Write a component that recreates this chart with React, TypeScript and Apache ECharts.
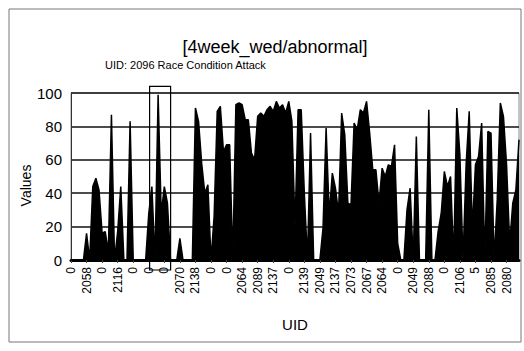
import React, { useEffect, useRef } from "react";
import * as echarts from "echarts";

const titleText = "[4week_wed/abnormal]";
const annotationText = "UID: 2096 Race Condition Attack";
const yName = "Values";
const xName = "UID";

// visible UID tick labels (every 5th category)
const uidLabels = [
  "0", "2058", "0", "2116", "0", "0", "0", "2070", "2138", "0",
  "0", "2064", "2089", "2137", "0", "2139", "2049", "2137", "2073", "2067",
  "2064", "0", "2049", "2088", "0", "2106", "5", "2085", "2080",
];

const values = [
  0, 0, 0, 0, 0, 16, 0, 44, 49, 42,
  16, 17, 5, 87, 0, 17, 44, 0, 0, 83,
  0, 0, 0, 0, 0, 28, 44, 0, 99, 28,
  44, 34, 0, 0, 0, 13, 0, 0, 0, 0,
  91, 83, 58, 40, 45, 0, 26, 89, 92, 65,
  69, 69, 0, 93, 94, 93, 84, 84, 64, 60,
  86, 88, 86, 90, 92, 89, 95, 91, 93, 88,
  95, 83, 20, 90, 90, 40, 0, 76, 0, 0,
  0, 19, 79, 27, 52, 43, 28, 88, 75, 34,
  33, 82, 78, 90, 88, 95, 76, 54, 54, 34,
  55, 50, 57, 56, 69, 10, 0, 0, 30, 43,
  0, 74, 0, 0, 0, 90, 0, 0, 17, 28,
  53, 44, 50, 0, 91, 63, 0, 57, 89, 18,
  57, 62, 82, 0, 77, 76, 0, 36, 94, 86,
  57, 10, 34, 42, 72,
];

const labelStep = 5;
const categories = values.map((_, i) =>
  i % labelStep === 0 ? uidLabels[i / labelStep] : ""
);

const attackIndex = 28;

const FONT = "'Liberation Sans Narrow', 'Liberation Sans', Arial, sans-serif";

export default function App() {
  const ref = useRef<HTMLDivElement>(null);

  useEffect(() => {
    document.body.style.margin = "0";
    const chart = echarts.init(ref.current!, undefined, { renderer: "svg" });
    chart.setOption({
      animation: false,
      backgroundColor: "#ffffff",
      textStyle: { fontFamily: FONT, color: "#000" },
      title: {
        text: titleText,
        left: 270,
        top: 33,
        textAlign: "center",
        textStyle: { fontFamily: FONT, fontSize: 18, fontWeight: "normal", color: "#000" },
      },
      grid: {
        left: 71,
        right: 5,
        top: 93,
        bottom: 91,
        show: true,
        borderColor: "#888",
        borderWidth: 1,
        backgroundColor: "transparent",
      },
      xAxis: {
        type: "category",
        data: categories,
        boundaryGap: false,
        name: xName,
        nameLocation: "middle",
        nameGap: 57,
        nameMoveOverlap: false,
        nameTextStyle: { fontFamily: FONT, fontSize: 15, color: "#000" },
        axisLine: { show: true, lineStyle: { color: "#000", width: 3 } },
        axisTick: { show: true, interval: labelStep - 1, length: 3, lineStyle: { color: "#444" } },
        axisLabel: {
          interval: labelStep - 1,
          rotate: 90,
          fontSize: 12,
          margin: 7,
          color: "#000",
          fontFamily: FONT,
        },
        splitLine: { show: false },
      },
      yAxis: {
        type: "value",
        min: 0,
        max: 100,
        interval: 20,
        name: yName,
        nameLocation: "middle",
        nameGap: 38,
        nameMoveOverlap: false,
        nameTextStyle: { fontFamily: FONT, fontSize: 14, color: "#000", padding: [0, 18, 0, 0] },
        axisLine: { show: true, lineStyle: { color: "#333", width: 1 } },
        axisTick: { show: false },
        axisLabel: { fontSize: 15, margin: 9, color: "#000", fontFamily: FONT },
        splitLine: { show: true, lineStyle: { color: "#111", width: 1.5 } },
      },
      series: [
        {
          type: "line",
          data: values,
          showSymbol: false,
          symbol: "none",
          lineStyle: { color: "#000", width: 1.5 },
          areaStyle: { color: "#000", opacity: 1 },
          z: 3,
        },
      ],
    });

    const cx = chart.convertToPixel({ xAxisIndex: 0, yAxisIndex: 0 }, [attackIndex, 104]) as number[];
    const base = chart.convertToPixel({ xAxisIndex: 0, yAxisIndex: 0 }, [attackIndex, 0]) as number[];
    const boxW = 21;
    const boxLeft = cx[0] + 2 - boxW / 2;

    chart.setOption({
      graphic: [
        {
          type: "rect",
          shape: { x: 9, y: 9, width: 512, height: 333 },
          style: { fill: "none", stroke: "#777", lineWidth: 1 },
          silent: true,
        },
        {
          type: "rect",
          shape: { x: boxLeft, y: cx[1], width: boxW, height: base[1] + 10 - cx[1] },
          style: { fill: "none", stroke: "#000", lineWidth: 1.2 },
          z: 10,
          silent: true,
        },
        {
          type: "text",
          x: 105,
          y: 65,
          style: {
            text: annotationText,
            fontFamily: FONT,
            fontSize: 11,
            fill: "#000",
            textVerticalAlign: "middle",
          },
          silent: true,
        },
      ],
    });

    return () => chart.dispose();
  }, []);

  return <div ref={ref} style={{ width: 524, height: 351 }} />;
}
